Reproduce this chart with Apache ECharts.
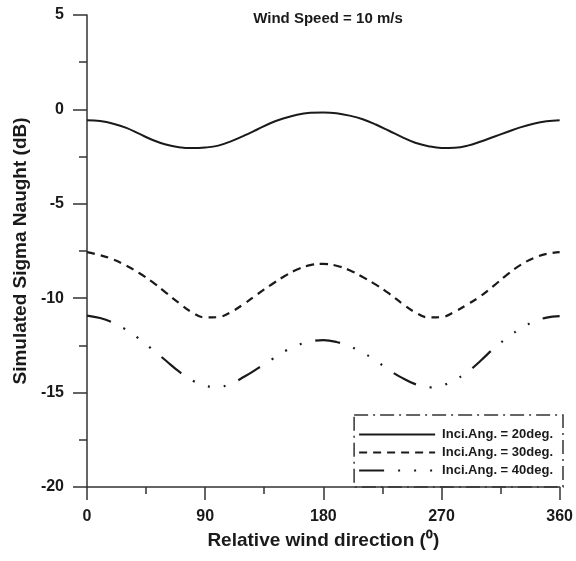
<!DOCTYPE html>
<html>
<head>
<meta charset="utf-8">
<script src="https://cdn.jsdelivr.net/npm/echarts@6/dist/echarts.min.js"></script>
<style>
html,body{margin:0;padding:0;background:#fff;}
#chart{width:576px;height:561px;}
</style>
</head>
<body>
<div id="chart"></div>
<script>
const directions = [0,10,20,30,40,50,60,70,80,90,100,110,120,130,140,150,160,170,180,190,200,210,220,230,240,250,260,270,280,290,300,310,320,330,340,350,360];
const inc20 = [-0.57,-0.62,-0.76,-0.98,-1.3,-1.62,-1.86,-2.0,-2.05,-2.02,-1.92,-1.68,-1.38,-1.05,-0.72,-0.47,-0.28,-0.18,-0.16,-0.2,-0.33,-0.52,-0.8,-1.13,-1.47,-1.77,-1.95,-2.04,-2.03,-1.92,-1.7,-1.45,-1.2,-0.95,-0.76,-0.63,-0.57];
const inc30 = [-7.56,-7.72,-7.95,-8.28,-8.68,-9.15,-9.7,-10.25,-10.75,-11.02,-11.0,-10.72,-10.28,-9.78,-9.3,-8.85,-8.48,-8.25,-8.18,-8.28,-8.52,-8.88,-9.28,-9.75,-10.28,-10.75,-11.02,-11.0,-10.72,-10.32,-9.88,-9.33,-8.75,-8.25,-7.88,-7.65,-7.56];
const inc40 = [-10.92,-11.05,-11.3,-11.68,-12.17,-12.73,-13.3,-13.88,-14.35,-14.64,-14.7,-14.52,-14.15,-13.72,-13.28,-12.83,-12.5,-12.3,-12.22,-12.32,-12.55,-12.88,-13.3,-13.8,-14.22,-14.55,-14.72,-14.64,-14.33,-13.9,-13.3,-12.65,-12.1,-11.62,-11.25,-11.03,-10.95];
const seriesNames = ['Inci.Ang. = 20deg.','Inci.Ang. = 30deg.','Inci.Ang. = 40deg.'];
const xTicks = [0,90,180,270,360];
const yTicks = [-20,-15,-10,-5,0,5];
const titleText = 'Wind Speed = 10 m/s';
const xName = 'Relative wind direction (\u2070)';
const yName = 'Simulated Sigma Naught (dB)';

const pair = arr => directions.map((d,i)=>[d,arr[i]]);
const font = 'Liberation Sans, Arial, sans-serif';
const ink = '#1a1a1a';

const chart = echarts.init(document.getElementById('chart'), null, {renderer:'canvas'});
chart.setOption({
  animation:false,
  backgroundColor:'#fff',
  title:{text:titleText,left:323,textAlign:'center',top:6,
    textStyle:{fontFamily:font,fontSize:15,fontWeight:'bold',color:ink}},
  grid:{left:87,right:13,top:15,bottom:74,containLabel:false},
  xAxis:{type:'value',min:0,max:360,interval:90,
    name:xName,nameLocation:'middle',nameGap:44,
    nameTextStyle:{fontFamily:font,fontSize:19,fontWeight:'bold',color:ink},
    axisLine:{onZero:false,lineStyle:{color:'#333',width:1.5}},
    axisTick:{length:13,lineStyle:{color:'#333',width:1.5}},
    minorTick:{show:true,splitNumber:2,length:7,lineStyle:{color:'#333',width:1.5}},
    splitLine:{show:false},
    axisLabel:{margin:22,fontFamily:font,fontSize:16,fontWeight:'bold',color:ink,
      formatter:v=>xTicks.includes(v)?String(v):''}},
  yAxis:{type:'value',min:-20,max:5,interval:5,
    name:yName,nameLocation:'middle',nameGap:53,nameRotate:90,
    nameTextStyle:{fontFamily:font,fontSize:19,fontWeight:'bold',color:ink},
    axisLine:{show:true,onZero:false,lineStyle:{color:'#333',width:1.5}},
    axisTick:{show:true,length:14,lineStyle:{color:'#333',width:1.5}},
    minorTick:{show:true,splitNumber:2,length:8,lineStyle:{color:'#333',width:1.5}},
    splitLine:{show:false},
    axisLabel:{margin:23,fontFamily:font,fontSize:16,fontWeight:'bold',color:ink,
      formatter:v=>yTicks.includes(v)?String(v):''}},
  legend:{
    data:seriesNames,orient:'vertical',right:13,bottom:74,
    itemWidth:76,itemHeight:12,itemGap:5,
    padding:[13,10,10,4],
    borderColor:'#333',borderWidth:1.5,borderType:[14,5,2,5],
    itemStyle:{color:'transparent',borderWidth:0,opacity:0},
    textStyle:{fontFamily:font,fontSize:13,fontWeight:'bold',color:ink,padding:[0,0,0,2]}},
  series:[
    {name:seriesNames[0],type:'line',data:pair(inc20),smooth:0.4,symbol:'none',
      lineStyle:{color:ink,width:2,type:'solid'},itemStyle:{color:ink}},
    {name:seriesNames[1],type:'line',data:pair(inc30),smooth:0.4,symbol:'none',
      lineStyle:{color:ink,width:2.2,type:[8,6]},itemStyle:{color:ink}},
    {name:seriesNames[2],type:'line',data:pair(inc40),smooth:0.4,symbol:'none',
      lineStyle:{color:ink,width:2.2,type:[25,14,2,14,2,14,2,14]},itemStyle:{color:ink}}
  ]
});
</script>
</body>
</html>
